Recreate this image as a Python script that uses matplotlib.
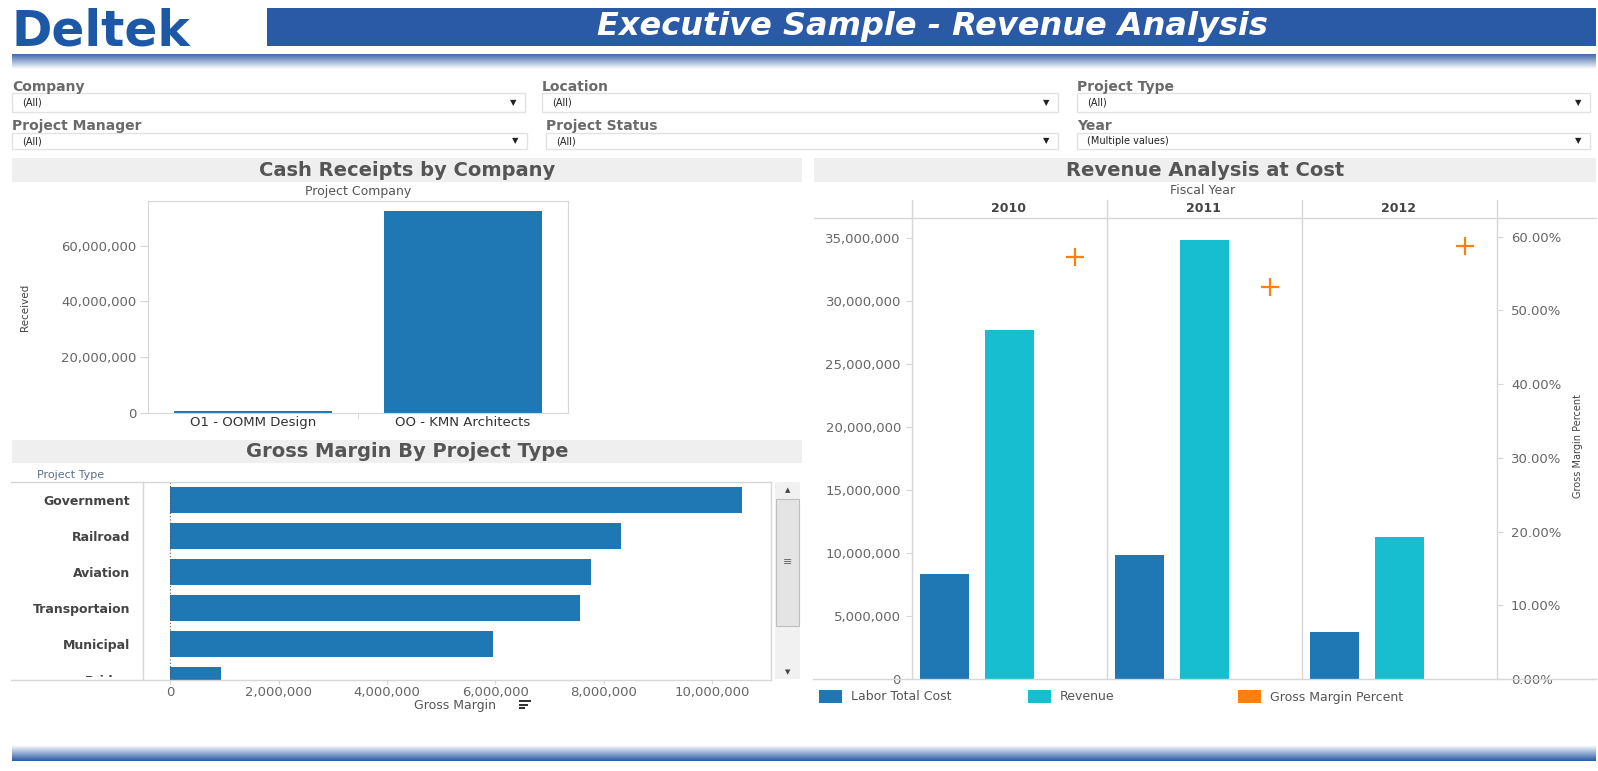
import matplotlib
matplotlib.use("Agg")
import matplotlib.pyplot as plt
import numpy as np
from matplotlib.patches import Rectangle
from matplotlib.lines import Line2D
from matplotlib.transforms import Affine2D
from matplotlib.ticker import FuncFormatter, FixedLocator
from matplotlib.colors import LinearSegmentedColormap

# ---------------- data ----------------
companies = ["O1 - OOMM Design", "OO - KMN Architects"]
cash_received = [0.7e6, 72.5e6]
cash_ticks = [0, 20e6, 40e6, 60e6]

project_types = ["Government", "Railroad", "Aviation", "Transportaion", "Municipal", "Bridge"]
gross_margin = [10.56e6, 8.32e6, 7.77e6, 7.56e6, 5.96e6, 0.93e6]
gm_ticks = [0, 2e6, 4e6, 6e6, 8e6, 10e6]

fiscal_years = ["2010", "2011", "2012"]
labor_total_cost = [8.33e6, 9.82e6, 3.71e6]
revenue = [27.67e6, 34.82e6, 11.27e6]
gross_margin_pct = [57.2, 53.2, 58.75]
rev_ticks = [0, 5e6, 10e6, 15e6, 20e6, 25e6, 30e6, 35e6]
pct_ticks = [0, 10, 20, 30, 40, 50, 60]

filter_names = ["Company", "Location", "Project Type", "Project Manager", "Project Status", "Year"]
filter_values = ["(All)", "(All)", "(All)", "(All)", "(All)", "(Multiple values)"]

# ---------------- colors ----------------
C_LABOR = "#1f77b4"
C_REV = "#17becf"
C_GM = "#ff7f0e"
C_HEAD = "#2a5aa6"
C_BAND = "#efefef"
C_TICK = "#666666"
C_LINE = "#d6d6d6"

W, H = 1598, 771
plt.rcParams["font.family"] = ["DejaVu Sans"]
fig = plt.figure(figsize=(W / 100, H / 100), dpi=100)
fig.patch.set_facecolor("white")
PX = Affine2D().scale(1.0 / W, -1.0 / H).translate(0, 1) + fig.transFigure


def prect(x0, y0, x1, y1):
    return [x0 / W, 1 - y1 / H, (x1 - x0) / W, (y1 - y0) / H]


def rect(x0, y0, x1, y1, **kw):
    fig.add_artist(Rectangle((x0, y0), x1 - x0, y1 - y0, transform=PX, **kw))


def line(xs, ys, **kw):
    kw.setdefault("color", C_LINE)
    kw.setdefault("lw", 1)
    fig.add_artist(Line2D(xs, ys, transform=PX, **kw))


def text(x, y, s, **kw):
    return fig.text(x, y, s, transform=PX, **kw)


def gradient(x0, y0, x1, y1, c_top, c_bot):
    ax = fig.add_axes(prect(x0, y0, x1, y1))
    cmap = LinearSegmentedColormap.from_list("g", [c_top, c_bot])
    ax.imshow(np.linspace(0, 1, 64).reshape(-1, 1), aspect="auto", cmap=cmap,
              extent=[0, 1, 0, 1])
    ax.set_axis_off()


# ---------------- header ----------------
text(11, 45, "Deltek", fontsize=35, fontweight="bold", color="#1d58a6",
     ha="left", va="baseline")
rect(267, 8, 1596, 46, facecolor=C_HEAD, edgecolor="none")
text(932, 27, "Executive Sample - Revenue Analysis", fontsize=23,
     fontweight="bold", fontstyle="italic", color="white", ha="center", va="center")
gradient(12, 54, 1596, 69, "#4068ae", "#ffffff")

# ---------------- filters ----------------
boxes = [(12, 525, 87, 93, 112), (542, 1058, 87, 93, 112), (1077, 1590, 87, 93, 112),
         (12, 527, 126, 133, 149), (546, 1058, 126, 133, 149), (1077, 1590, 126, 133, 149)]
for (bx0, bx1, ly, by0, by1), name, val in zip(boxes, filter_names, filter_values):
    text(bx0, ly, name, fontsize=10, fontweight="bold", color="#6a6a6a",
         ha="left", va="center")
    rect(bx0, by0, bx1, by1, facecolor="white", edgecolor="#e2e2e2", lw=1)
    text(bx0 + 10, (by0 + by1) / 2, val, fontsize=7, color="#222222",
         ha="left", va="center")
    text(bx1 - 12, (by0 + by1) / 2, "\u25BC", fontsize=6, color="#222222",
         ha="center", va="center")

# ---------------- panel title bands ----------------
for (x0, y0, x1, y1, title, cx) in [
        (12, 158, 802, 182, "Cash Receipts by Company", 407),
        (12, 440, 802, 463, "Gross Margin By Project Type", 407),
        (814, 158, 1596, 182, "Revenue Analysis at Cost", 1205)]:
    rect(x0, y0, x1, y1, facecolor=C_BAND, edgecolor="none")
    text(cx, (y0 + y1) / 2, title, fontsize=14, fontweight="bold",
         color="#555555", ha="center", va="center")

fmt_int = FuncFormatter(lambda v, p: f"{v:,.0f}")

# ---------------- Cash receipts by company ----------------
ax1 = fig.add_axes(prect(148, 201, 568, 413))
ax1.bar(range(len(companies)), cash_received, width=0.75, color=C_LABOR)
ax1.set_xlim(-0.5, len(companies) - 0.5)
ax1.set_ylim(0, 76e6)
ax1.yaxis.set_major_locator(FixedLocator(cash_ticks))
ax1.yaxis.set_major_formatter(fmt_int)
ax1.set_xticks(range(len(companies)))
ax1.set_xticklabels(companies, fontsize=9.5, color="#333333")
ax1.set_xticks([0.5], minor=True)
ax1.tick_params(axis="x", which="major", length=0, pad=2)
ax1.tick_params(axis="x", which="minor", length=4, color=C_LINE)
ax1.tick_params(axis="y", length=5.5, width=0.8, color=C_LINE, labelsize=9.5,
                labelcolor=C_TICK, pad=3)
for s in ax1.spines.values():
    s.set_color(C_LINE)
text(358, 191, "Project Company", fontsize=9, color="#555555", ha="center", va="center")
text(25, 307, "Received", fontsize=7.5, color="#444444", rotation=90,
     ha="center", va="center")

# ---------------- Gross margin by project type ----------------
ax2 = fig.add_axes(prect(143, 482, 771, 680))
ypos = np.arange(len(project_types))
ax2.barh(ypos, gross_margin, height=0.73, color=C_LABOR)
ax2.set_ylim(5.0, -0.5)
ax2.set_xlim(-0.507e6, 11.09e6)
ax2.axvline(0, color="#555555", lw=0.8, ls=(0, (1, 2)))
ax2.set_yticks(ypos)
ax2.set_yticklabels(project_types, fontsize=9, fontweight="bold", color="#444444")
ax2.tick_params(axis="y", length=0, pad=9)
ax2.xaxis.set_major_locator(FixedLocator(gm_ticks))
ax2.xaxis.set_major_formatter(fmt_int)
ax2.tick_params(axis="x", length=3, width=0.8, color=C_LINE, labelsize=9.5,
                labelcolor=C_TICK, pad=1.5)
for s in ax2.spines.values():
    s.set_visible(False)
rect(11, 676.5, 142, 692, facecolor="white", edgecolor="none", zorder=10)
line([11, 771], [482, 482])
line([11, 771], [680, 680], zorder=11)
line([143, 143], [482, 680], zorder=11)
line([771, 771], [482, 680])
text(37, 475, "Project Type", fontsize=8, color="#5d6f8c", ha="left", va="center")
text(455, 705, "Gross Margin", fontsize=9, color="#555555", ha="center", va="center")
rect(519, 700, 531, 702, facecolor="#333333", edgecolor="none")
rect(519, 703.5, 528, 705.5, facecolor="#333333", edgecolor="none")
rect(519, 707, 525, 709, facecolor="#333333", edgecolor="none")
# scrollbar
rect(775, 482, 800, 679, facecolor="#f1f1f1", edgecolor="none")
rect(776, 499, 799, 626, facecolor="#e4e4e4", edgecolor="#bdbdbd", lw=0.8)
text(787.5, 490, "\u25B2", fontsize=5, color="#444444", ha="center", va="center")
text(787.5, 672, "\u25BC", fontsize=5, color="#444444", ha="center", va="center")
text(787.5, 562, "\u2261", fontsize=8, color="#666666", ha="center", va="center")

# ---------------- Revenue analysis at cost ----------------
ax3 = fig.add_axes(prect(912, 218, 1497, 679))
nyr = len(fiscal_years)
x_labor = np.arange(nyr) * 3
x_rev = np.arange(nyr) * 3 + 1
x_gm = np.arange(nyr) * 3 + 2
ax3.bar(x_labor, labor_total_cost, width=0.75, color=C_LABOR)
ax3.bar(x_rev, revenue, width=0.76, color=C_REV)
ax3.set_xlim(-0.5, 3 * nyr - 0.5)
ax3.set_ylim(0, 36.59e6)
ax3.yaxis.set_major_locator(FixedLocator(rev_ticks))
ax3.yaxis.set_major_formatter(fmt_int)
ax3.set_xticks([])
ax3.tick_params(axis="y", length=4, width=0.8, color=C_LINE, labelsize=9.5,
                labelcolor=C_TICK, pad=4)
for s in ax3.spines.values():
    s.set_visible(False)

ax3b = ax3.twinx()
ax3b.plot(x_gm, gross_margin_pct, ls="none", marker="+", ms=13, mew=1.6, color=C_GM)
ax3b.set_ylim(0, 62.55)
ax3b.yaxis.set_major_locator(FixedLocator(pct_ticks))
ax3b.yaxis.set_major_formatter(FuncFormatter(lambda v, p: f"{v:.2f}%"))
ax3b.tick_params(axis="y", length=4, width=0.8, color=C_LINE, labelsize=9.5,
                 labelcolor=C_TICK, pad=6)
for s in ax3b.spines.values():
    s.set_visible(False)

for xv in [912, 1107, 1302, 1497]:
    line([xv, xv], [200, 679])
line([814, 1596], [218, 218])
line([813, 1596], [679, 679])
text(1203, 190, "Fiscal Year", fontsize=9, color="#555555", ha="center", va="center")
for i, yr in enumerate(fiscal_years):
    text(1008.6 + i * 195, 209, yr, fontsize=9, fontweight="bold", color="#444444",
         ha="center", va="center")
text(1578, 446, "Gross Margin Percent", fontsize=7, color="#444444", rotation=90,
     ha="center", va="center")

# legend
for lx, lab, col in [(819, "Labor Total Cost", C_LABOR), (1028, "Revenue", C_REV),
                     (1238, "Gross Margin Percent", C_GM)]:
    rect(lx, 690, lx + 23, 703, facecolor=col, edgecolor="none")
    text(lx + 32, 697, lab, fontsize=9, color="#555555", ha="left", va="center")

# bottom band
gradient(12, 745, 1596, 761, "#ffffff", C_HEAD)

fig.savefig("out.png", dpi=100, facecolor="white")
